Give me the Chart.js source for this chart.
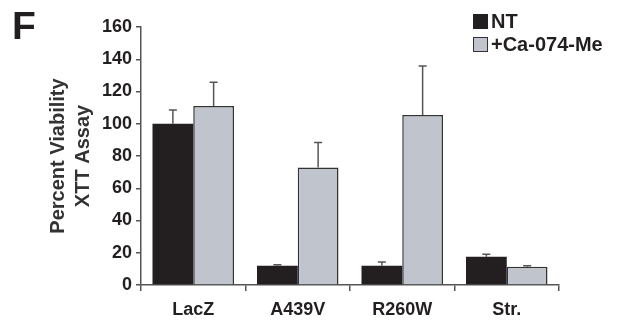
<!DOCTYPE html>
<html>
<head>
<meta charset="utf-8">
<script src="https://cdn.jsdelivr.net/npm/chart.js@4/dist/chart.umd.min.js"></script>
<style>
  body { margin: 0; background: #fff; }
  #wrap { position: relative; width: 620px; height: 327px; }
  #panel { position: absolute; left: 12px; top: 4px; font: bold 39px "Liberation Sans", Arial, sans-serif; color: #231f20; }
  .leg { position: absolute; left: 473px; font: bold 20px "Liberation Sans", Arial, sans-serif; color: #231f20; line-height: 22px; }
  .leg span { display: inline-block; width: 15px; height: 15px; vertical-align: -1px; margin-right: 3px; box-sizing: border-box; }
</style>
</head>
<body>
<div id="wrap">
  <canvas id="chart" width="620" height="327"></canvas>
  <div id="panel">F</div>
  <div class="leg" style="top:10px"><span style="background:#231f20"></span>NT</div>
  <div class="leg" style="top:33px"><span style="background:#c0c4cc;border:1.5px solid #333"></span>+Ca-074-Me</div>
</div>
<script>
// datos
const categories = ['LacZ', 'A439V', 'R260W', 'Str.'];
const ntValues = [100, 12, 12, 17.5];
const ntErrors = [8.5, 0.6, 2.3, 1.5];
const caValues = [111, 72.8, 105.4, 11.3];
const caErrors = [14.7, 15.5, 30.4, 0.7];
const yTicks = [0, 20, 40, 60, 80, 100, 120, 140, 160];

const tickFont = { family: '"Liberation Sans", Arial, sans-serif', size: 18, weight: 'bold' };

// barras de error (solo hacia arriba)
const errorBars = {
    id: 'errorBars',
    afterDatasetsDraw(chart) {
        const ctx = chart.ctx;
        const yScale = chart.scales.y;
        chart.data.datasets.forEach(function(ds, i) {
            const meta = chart.getDatasetMeta(i);
            meta.data.forEach(function(bar, j) {
                const top = yScale.getPixelForValue(ds.data[j] + ds.errors[j]);
                ctx.save();
                ctx.strokeStyle = '#555';
                ctx.lineWidth = 1.5;
                ctx.beginPath();
                ctx.moveTo(bar.x, bar.y);
                ctx.lineTo(bar.x, top);
                ctx.moveTo(bar.x - 4, top);
                ctx.lineTo(bar.x + 4, top);
                ctx.stroke();
                ctx.restore();
            });
        });
    }
};

new Chart(document.getElementById('chart'), {
    type: 'bar',
    data: {
        labels: categories,
        datasets: [{
            label: 'NT',
            data: ntValues,
            errors: ntErrors,
            backgroundColor: '#231f20',
            borderWidth: 0
        }, {
            label: '+Ca-074-Me',
            data: caValues,
            errors: caErrors,
            backgroundColor: '#c0c4cc',
            borderColor: '#333',
            borderWidth: 1.5
        }]
    },
    options: {
        responsive: false,
        animation: false,
        layout: { padding: { left: 40, top: 27, right: 61, bottom: 0 } },
        plugins: { legend: { display: false }, tooltip: { enabled: false } },
        datasets: { bar: { categoryPercentage: 0.78, barPercentage: 1 } },
        scales: {
            x: {
                grid: { drawOnChartArea: false, tickLength: 6, color: '#555', lineWidth: 1.5 },
                border: { color: '#555', width: 1.5 },
                ticks: { color: '#231f20', font: tickFont, padding: 8 },
                afterFit(axis) { axis.height = 42; }
            },
            y: {
                min: 0,
                max: 160,
                afterBuildTicks(axis) { axis.ticks = yTicks.map(v => ({ value: v })); },
                grid: { drawOnChartArea: false, tickLength: 5, color: '#555', lineWidth: 1.5 },
                border: { color: '#555', width: 1.5 },
                ticks: { color: '#231f20', font: tickFont, padding: 4 },
                title: {
                    display: true,
                    text: ['Percent Viability', 'XTT Assay'],
                    color: '#333',
                    font: { family: '"Liberation Sans", Arial, sans-serif', size: 20, weight: 'bold', lineHeight: 1.25 },
                    padding: { top: 6, bottom: 0 }
                },
                afterFit(axis) { axis.width = 101; }
            }
        }
    },
    plugins: [errorBars]
});
</script>
</body>
</html>
